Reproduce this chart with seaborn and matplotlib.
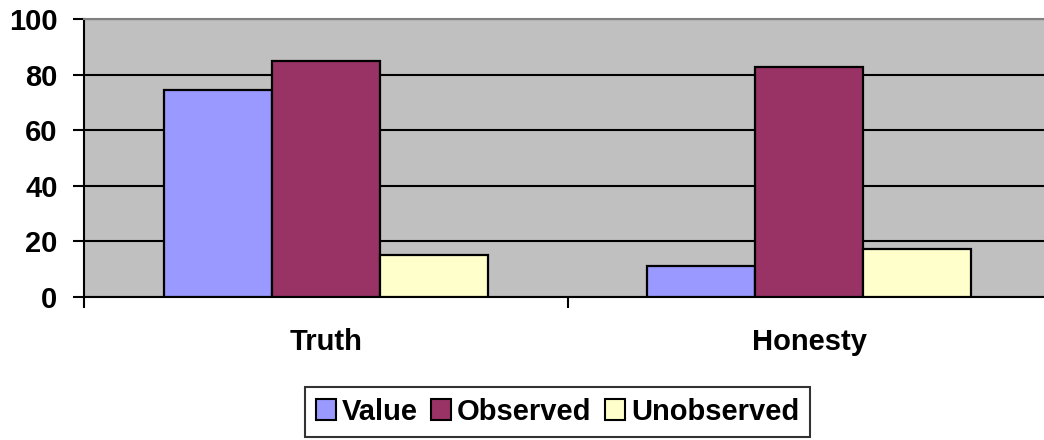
import numpy as np
import pandas as pd
import matplotlib
matplotlib.use('Agg')
import matplotlib.pyplot as plt
from matplotlib.patches import Patch
import seaborn as sns

categories = ["Truth", "Honesty"]
series = ["Value", "Observed", "Unobserved"]
value = [74.5, 11.3]
observed = [85, 82.7]
unobserved = [15, 17.2]
colors = ["#9999FF", "#993366", "#FFFFCC"]

df = pd.DataFrame({
    "category": categories * 3,
    "series": [s for s in series for _ in categories],
    "pct": value + observed + unobserved,
})

sns.set_style("white")
plt.rcParams['font.family'] = ['Liberation Sans', 'DejaVu Sans']
plt.rcParams['font.weight'] = 'bold'
plt.rcParams['text.color'] = 'black'
plt.rcParams['xtick.color'] = 'black'
plt.rcParams['ytick.color'] = 'black'

fig = plt.figure(figsize=(10.44, 4.4), dpi=100)
ax = fig.add_axes([84 / 1044, 1 - 297 / 440, 967 / 1044, 278 / 440])
ax.set_facecolor("#C0C0C0")

sns.barplot(
    data=df, x="category", y="pct", hue="series",
    order=categories, hue_order=series, palette=colors,
    width=0.67, edgecolor="black", linewidth=1.6, saturation=1,
    ax=ax, zorder=3,
)
ax.get_legend().remove()

ax.set_ylim(0, 100)
ax.set_xlim(-0.5, 1.5)
ax.set_yticks(np.arange(0, 101, 20))
ax.yaxis.grid(True, color="black", linewidth=1.5, zorder=1)
ax.set_axisbelow(True)
ax.set_xlabel("")
ax.set_ylabel("")

for side in ["left", "bottom"]:
    ax.spines[side].set_color("black")
    ax.spines[side].set_linewidth(1.5)
ax.spines["top"].set_color("#808080")
ax.spines["top"].set_linewidth(1.5)
ax.spines["right"].set_visible(False)

ax.tick_params(axis="y", direction="out", length=8, width=1.5, color="black",
               pad=11, labelsize=21, left=True, labelcolor="black")
ax.tick_params(axis="x", which="major", length=0, pad=22, labelsize=21, labelcolor="black")
ax.set_xticks([-0.5, 0.5, 1.5], minor=True)
ax.tick_params(axis="x", which="minor", direction="out", length=8, width=1.5,
               color="black", bottom=True)
for lab in ax.get_xticklabels() + ax.get_yticklabels():
    lab.set_fontweight("bold")

handles = [Patch(facecolor=c, edgecolor="black", linewidth=1.5) for c in colors]
leg = fig.legend(handles, series, loc="center", bbox_to_anchor=(0.534, 0.064),
                 ncol=3, frameon=True, fancybox=False, prop={"size": 21, "weight": "bold"},
                 handlelength=0.7, handleheight=0.7, handletextpad=0.2,
                 columnspacing=0.45, borderpad=0.38, borderaxespad=0)
leg.get_frame().set_edgecolor("black")
leg.get_frame().set_linewidth(1.5)

fig.savefig("out.png", dpi=100)
